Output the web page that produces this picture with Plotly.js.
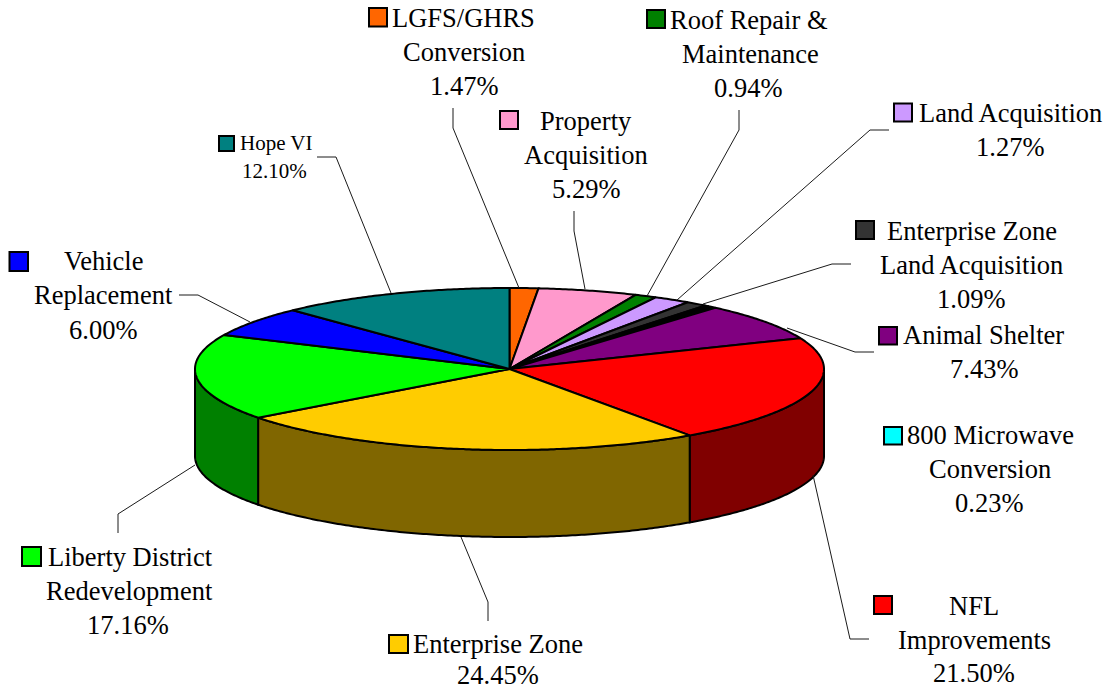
<!DOCTYPE html>
<html>
<head>
<meta charset="utf-8">
<script src="https://cdn.plot.ly/plotly-3.0.1.min.js"></script>
<style>html,body{margin:0;padding:0;background:#fff}#chart{width:1110px;height:690px}</style>
</head>
<body>
<div id="chart"></div>
<script>
// ---- data (clockwise from 12 o'clock) ----
const categories = ["LGFS/GHRS|Conversion", "Property|Acquisition", "Roof Repair &|Maintenance",
  "Land Acquisition", "Enterprise Zone|Land Acquisition", "800 Microwave|Conversion", "",
  "Animal Shelter", "NFL|Improvements", "Enterprise Zone", "Liberty District|Redevelopment",
  "Vehicle|Replacement", "Hope VI"];
// percentages as printed on the labels
const printed = [1.47, 5.29, 0.94, 1.27, 1.09, 0.23, null, 7.43, 21.50, 24.45, 17.16, 6.00, 12.10];
// slice sizes as measured on the picture (the printed labels leave a thin unlabelled black slice)
const shares = [1.47, 5.10, 1.13, 1.90, 1.09, 0.23, 0.44, 7.43, 21.50, 24.45, 17.16, 6.00, 12.10];
const colors = ["#FF6600", "#FF99CC", "#008000", "#CC99FF", "#333333", "#00FFFF", "#000000",
  "#800080", "#FF0000", "#FFCC00", "#00FF00", "#0000FF", "#008080"];

// ---- label layout: centre x of the text, y of each line, key box [x0,y0,x1,y1], leader polyline ----
const labelX = [[463.5,464,463.5],[586,586,586],[749,750,748],[1010,1009.5],[971.5,971.5,971],[990,990,989],null,
  [983.5,983.5],[974,974,974],[498,498],[130,129,128],[103,103,103],[276,274]];
const labelY = [[18,52,86],[121,155,189],[20,54,88],[113,147],[231,265,299],[435,469,503],null,
  [335,369],[606,640,673],[644,675],[557,591,625],[261,295,330],[143,171]];
const keyBox = [[369,8,387,26.5],[500,111,518,129],[647,10,665,28],[894,103.5,912,121.5],[856,221,874,239],
  [884,427,902,444.5],null,[879,327,897,344.5],[874,596,892,614],[389,635,408,653],[22,547,41,566],[9.5,252,28,271],[219,136,234,151]];
const leaders = [
  [[453,108],[453,128],[519,288]], [[574,211],[574,231],[585,289]], [[739,110],[739,130],[647,296]],
  [[889,130],[870,130],[677,300]], [[851,264],[832,264],[703,304]], null, null,
  [[874,352],[855,352],[787,328]], [[869,639],[850,639],[813,475]], [[488,621],[488,602],[461,537]],
  [[118,533],[118,514],[195,465]], [[179,295],[198,295],[250,322]], [[317,157],[336,157],[391,293]]
];
const smallLabel = 12;   // index of the one label set in a smaller size

// ---- pie geometry in page pixels ----
const cx = 509.5, cy = 369, rx = 314.5, ry = 81, depth = 87;
const fontBig = 26.5, fontSmall = 21;

const total = shares.reduce((a, b) => a + b, 0);
const px = t => cx + rx * Math.sin(t);
const py = (t, d) => cy - ry * Math.cos(t) + (d || 0);
function arc(a, b, d) {
  const n = Math.max(2, Math.ceil(Math.abs(b - a) / 0.01));
  const xs = [], ys = [];
  for (let i = 0; i <= n; i++) {
    const t = a + (b - a) * i / n;
    xs.push(px(t)); ys.push(py(t, d));
  }
  return [xs, ys];
}
function darken(hex) {
  const v = parseInt(hex.slice(1), 16);
  const c = [(v >> 16) & 255, (v >> 8) & 255, v & 255].map(k => Math.round(k / 2));
  return "rgb(" + c.join(",") + ")";
}

const traces = [];
const poly = (xs, ys, fill) => traces.push({
  type: "scatter", mode: "lines", x: xs, y: ys, fill: "toself", fillcolor: fill,
  line: {color: "#000", width: 2, simplify: false}, hoverinfo: "skip", showlegend: false
});

let acc = 0;
const spans = shares.map(v => { const a = acc; acc += v; return [a / total * 2 * Math.PI, acc / total * 2 * Math.PI]; });

// side walls: only the part of each slice that faces the viewer
spans.forEach((s, i) => {
  const a = Math.max(s[0], Math.PI / 2), b = Math.min(s[1], 3 * Math.PI / 2);
  if (b <= a) return;
  const top = arc(a, b, 0), bot = arc(b, a, depth);
  poly(top[0].concat(bot[0], [top[0][0]]), top[1].concat(bot[1], [top[1][0]]), darken(colors[i]));
});
// top faces
spans.forEach((s, i) => {
  const e = arc(s[0], s[1], 0);
  poly([cx].concat(e[0], [cx]), [cy].concat(e[1], [cy]), colors[i]);
});

// leader lines, key boxes, text
const shapes = [], annotations = [];
categories.forEach((cat, i) => {
  if (leaders[i]) {
    shapes.push({type: "path", xref: "x", yref: "y",
      path: leaders[i].map((p, k) => (k ? "L" : "M") + p[0] + "," + p[1]).join(" "),
      line: {color: "#1a1a1a", width: 1}});
  }
  if (keyBox[i]) {
    const k = keyBox[i];
    shapes.push({type: "rect", xref: "x", yref: "y", x0: k[0], y0: k[1], x1: k[2], y1: k[3],
      fillcolor: colors[i], line: {color: "#000", width: 2}});
  }
  if (labelX[i]) {
    const lines = cat.split("|").concat(printed[i].toFixed(2) + "%");
    lines.forEach((txt, j) => annotations.push({
      xref: "x", yref: "y", x: labelX[i][j], y: labelY[i][j], text: txt.replace("&", "&amp;"),
      showarrow: false, xanchor: "center", yanchor: "middle",
      font: {family: "'Liberation Serif', 'Times New Roman', serif", size: i === smallLabel ? fontSmall : fontBig, color: "#000"}
    }));
  }
});

Plotly.newPlot("chart", traces, {
  width: 1110, height: 690, margin: {l: 0, r: 0, t: 0, b: 0},
  paper_bgcolor: "#fff", plot_bgcolor: "#fff", showlegend: false,
  xaxis: {range: [0, 1110], visible: false, fixedrange: true},
  yaxis: {range: [690, 0], visible: false, fixedrange: true},
  shapes: shapes, annotations: annotations
}, {displayModeBar: false, staticPlot: true});
</script>
</body>
</html>
